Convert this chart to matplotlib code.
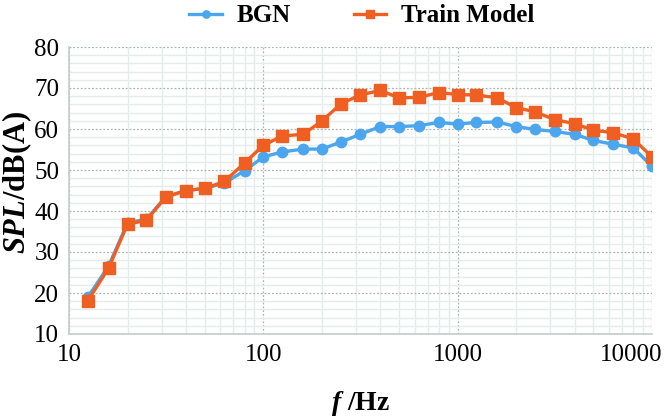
import matplotlib
matplotlib.use("Agg")
import matplotlib.pyplot as plt
import matplotlib.transforms as mtransforms
from matplotlib.ticker import FixedLocator, NullFormatter

plt.rcParams['font.family'] = ['Liberation Serif', 'DejaVu Serif']
plt.rcParams['mathtext.fontset'] = 'custom'
plt.rcParams['mathtext.it'] = 'Liberation Serif:italic:bold'
plt.rcParams['mathtext.rm'] = 'Liberation Serif:bold'
plt.rcParams['mathtext.bf'] = 'Liberation Serif:bold'

freqs = [12.5, 16, 20, 25, 31.5, 40, 50, 63, 80, 100, 125, 160, 200, 250, 315,
         400, 500, 630, 800, 1000, 1250, 1600, 2000, 2500, 3150, 4000, 5000,
         6300, 8000, 10000]
bgn = [19.0, 26.6, 37.1, 38.0, 43.5, 45.0, 45.5, 46.8, 49.8, 53.2, 54.4, 55.1,
       55.1, 56.8, 58.7, 60.6, 60.6, 60.8, 61.6, 61.2, 61.6, 61.7, 60.6, 59.9,
       59.4, 58.7, 57.2, 56.3, 55.4, 50.9]
train = [18.1, 26.1, 36.8, 37.7, 43.4, 45.0, 45.5, 47.2, 51.7, 56.0, 58.3, 58.7,
         61.9, 66.1, 68.3, 69.4, 67.6, 67.7, 68.9, 68.4, 68.3, 67.6, 65.2, 64.2,
         62.3, 61.3, 59.7, 59.1, 57.6, 53.2]
series_names = ["BGN", "Train Model"]
xticks = [10, 100, 1000, 10000]
xtick_labels = ["10", "100", "1000", "10000"]
yticks = [10, 20, 30, 40, 50, 60, 70, 80]

W, H = 667, 417
fig = plt.figure(figsize=(W / 100, H / 100), dpi=100)
L, R, T, B = 69, 652, 47, 334
ax = fig.add_axes([L / W, (H - B) / H, (R - L) / W, (B - T) / H])

blue = '#4BA6EE'
orange = '#F05F22'

ax.plot(freqs, bgn, color=blue, lw=2.4, marker='o', ms=7.5, label=series_names[0], zorder=3)
ax.plot(freqs, train, color=orange, lw=2.4, marker='s', ms=8, label=series_names[1], zorder=4)

ax.set_xscale('log')
ax.set_xlim(10, 10000)
ax.set_ylim(10, 80)
ax.xaxis.set_major_locator(FixedLocator(xticks))
ax.set_xticklabels(xtick_labels)
minor_x = [m * d for d in (10, 100, 1000) for m in range(2, 10)]
ax.xaxis.set_minor_locator(FixedLocator(minor_x))
ax.xaxis.set_minor_formatter(NullFormatter())
ax.set_yticks(yticks)
ax.yaxis.set_minor_locator(FixedLocator([v for v in range(10, 81, 2) if v % 10]))

ax.grid(True, which='minor', color='#E4ECEC', lw=1.0, ls='-', zorder=0)
ax.grid(True, which='major', color='#A9B4B4', lw=0.9, ls=(0, (1.5, 1.5)), zorder=1)

ax.tick_params(which='both', length=0)
ax.tick_params(axis='y', labelsize=18, pad=7)
ax.tick_params(axis='x', labelsize=18, pad=7)

for s in ['top', 'right']:
    ax.spines[s].set_visible(False)
for s in ['left', 'bottom']:
    ax.spines[s].set_color('#C4CCCC')
    ax.spines[s].set_linewidth(1.2)

# shift last x label to stay inside the figure
lbls = ax.get_xticklabels()
offset = mtransforms.ScaledTranslation(-21 / 100, 0, fig.dpi_scale_trans)
lbls[-1].set_transform(lbls[-1].get_transform() + offset)

fig.text(17 / W, 1 - 182 / H, r'$\mathit{SPL}$/dB(A)', fontsize=22, fontweight='bold',
         rotation=90, ha='center', va='center')
fig.text(361 / W, 1 - 403 / H, r'$\mathit{f}$ /Hz', fontsize=20, fontweight='bold',
         ha='center', va='center')

leg = fig.legend(loc='center', bbox_to_anchor=(362 / W, 1 - 16 / H), ncol=2, frameon=False,
                 prop={'family': 'Liberation Serif', 'weight': 'bold', 'size': 18},
                 handlelength=1.3, columnspacing=2.5, handletextpad=0.6, markerscale=0.7,
                 borderpad=0.1)

fig.savefig('out.png', dpi=100)
